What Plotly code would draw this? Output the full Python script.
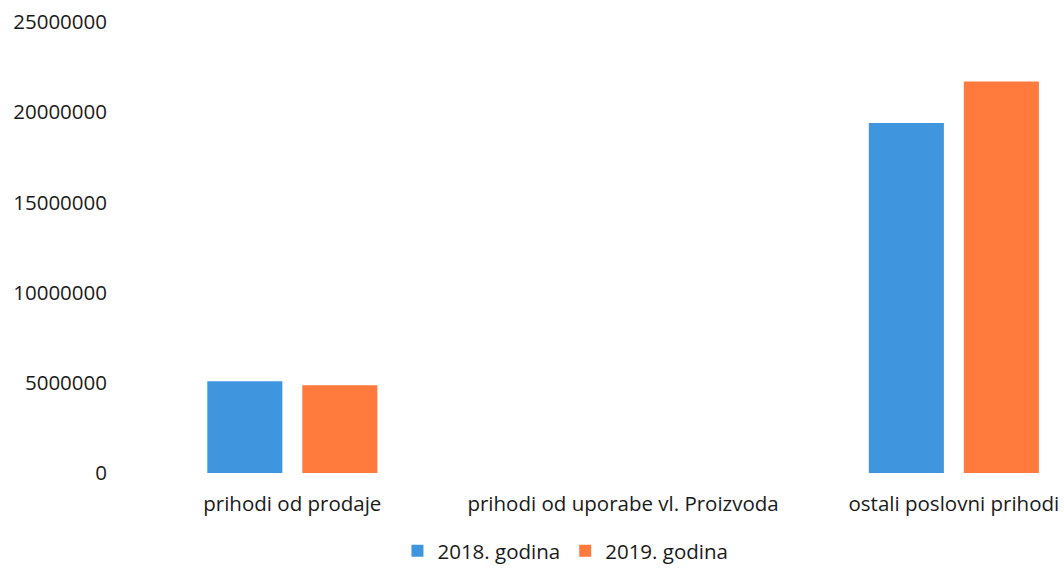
import plotly.graph_objects as go

categories = ["prihodi od prodaje", "prihodi od uporabe vl. Proizvoda", "ostali poslovni prihodi"]
values_2018 = [5090000, 0, 19400000]
values_2019 = [4870000, 0, 21700000]
series_names = ["2018. godina", "2019. godina"]
y_ticks = [0, 5000000, 10000000, 15000000, 20000000, 25000000]
y_tick_labels = ["0", "5000000", "10000000", "15000000", "20000000", "25000000"]

FONT = "Open Sans"
TXT = "#1a1a1a"
fig = go.Figure()
fig.add_trace(go.Bar(x=categories, y=values_2018, name=series_names[0], marker_color="#4096DE", marker_line_width=0))
fig.add_trace(go.Bar(x=categories, y=values_2019, name=series_names[1], marker_color="#FF7A3C", marker_line_width=0))

fig.update_layout(
    width=1064, height=571,
    margin=dict(l=118, r=0, t=22, b=98, autoexpand=False),
    paper_bgcolor="white", plot_bgcolor="white",
    barmode="group", bargap=0.4256, bargroupgap=0.21,
    font=dict(family=FONT, size=20, color=TXT),
    showlegend=True,
    legend=dict(orientation="h", x=0.473, xanchor="center", y=-0.173, yanchor="middle",
                font=dict(size=20.5, color=TXT), itemwidth=30, traceorder="normal"),
    xaxis=dict(type="category", range=[-0.527, 2.333], showgrid=False, showline=False,
               zeroline=False, ticks="", tickfont=dict(size=20.5, color=TXT), automargin=False,
               ticklabelstandoff=16),
    yaxis=dict(range=[0, 25000000], tickvals=y_ticks, ticktext=y_tick_labels, showgrid=False,
               showline=False, zeroline=False, ticks="", tickfont=dict(size=20.5, color=TXT),
               ticklabelstandoff=10, automargin=False),
)
fig.write_html("out.html", post_script="document.body.style.margin='0';",
               config={"displayModeBar": False})
